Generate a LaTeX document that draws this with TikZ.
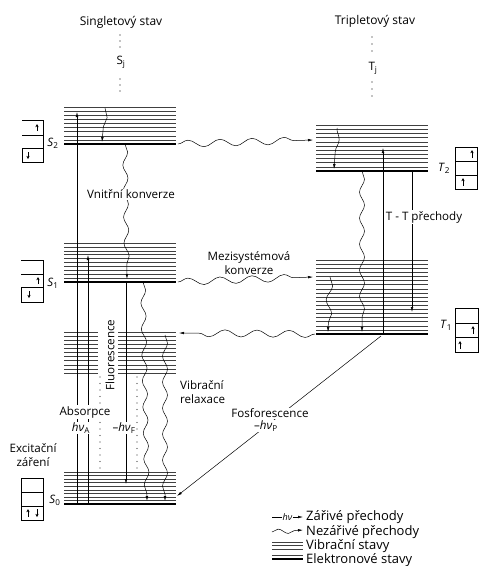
\documentclass[tikz,border=0pt]{standalone}
\usepackage{fontspec}
\setmainfont{Open Sans}
\usetikzlibrary{arrows.meta,positioning,decorations.pathmorphing,calc}

% x1, x2, ytop, ybottom, intervals
\newcommand{\vibthin}[5]{%
  \foreach \k in {0,...,#5}{%
    \pgfmathsetmacro\yy{#3+(#4-#3)*\k/#5}%
    \draw[vib] (#1,\yy) -- (#2,\yy);%
  }%
}
\newcommand{\vibstack}[5]{%
  \vibthin{#1}{#2}{#3}{#4}{#5}%
  \draw[elec] (#1,#4) -- (#2,#4);%
}
\newcommand{\hnu}[1]{\textit{hν}\textsubscript{#1}}

\begin{document}
\begin{tikzpicture}[
  x=1pt, y=-1pt,
  font=\fontsize{11.6}{13.5}\selectfont,
  vib/.style={black!75, line width=0.45pt},
  elec/.style={black, line width=1.3pt},
  rad/.style={-{Latex[length=5pt,width=2.6pt]}, line width=0.5pt},
  wavy/.style={-{Latex[length=5pt,width=2.6pt]}, line width=0.5pt, decorate,
    decoration={snake, amplitude=2.5pt, segment length=26pt, post length=4pt}},
  hwavy/.style={wavy, decoration={snake, amplitude=3.5pt, segment length=32pt, post length=5pt}},
  dotcol/.style={line width=1.1pt, line cap=round, dash pattern=on 0pt off 6.5pt, black!80},
  spin/.style={-{Stealth[length=3.2pt,width=3.2pt]}, line width=0.6pt},
  lbl/.style={fill=white, inner sep=1pt},
  leg/.style={anchor=base west, font=\fontsize{13}{15}\selectfont, inner sep=0pt}
]
  \path[use as bounding box, fill=white] (0,0) rectangle (479,566);

  % headings
  \node[font=\fontsize{12}{14}\selectfont] (singlet) at (121,22) {Singletový stav};
  \node[font=\fontsize{12}{14}\selectfont] (triplet) at (375,21) {Tripletový stav};
  \node (sj) at (121,62) {S\textsubscript{j}};
  \node (tj) at (373,68) {T\textsubscript{j}};
  \foreach \y in {35,41,47,79,85,91} \fill (120,\y) circle (0.7pt);
  \foreach \y in {37,44,51,82,89,96} \fill (372,\y) circle (0.7pt);

  % singlet levels
  \vibstack{64}{176}{107}{144}{9}
  \vibstack{64}{176}{243}{282}{10}
  \vibthin{64}{98}{332}{373}{10}
  \vibthin{118}{176}{332}{373}{10}
  \vibstack{64}{176}{472}{504}{9}
  \draw[dotcol] (100,377) -- (100,468);
  \draw[dotcol] (137,377) -- (137,468);

  % triplet levels
  \vibstack{316}{428}{125}{171}{11}
  \vibstack{316}{428}{260}{334}{18}

  % state labels
  \node (s2) at (53,143) {\textit{S}\textsubscript{2}};
  \node (s1) at (53,283) {\textit{S}\textsubscript{1}};
  \node (s0) at (55,500) {\textit{S}\textsubscript{0}};
  \node (t2) at (444,168) {\textit{T}\textsubscript{2}};
  \node (t1) at (446,325) {\textit{T}\textsubscript{1}};

  % orbital boxes
  \draw (22,120) -- (43,120) -- (43,162) -- (22,162) -- (22,148) -- (43,148) (22,135) -- (43,135);
  \draw[spin] (37,131) -- (37,124);
  \draw[spin] (28,152) -- (28,159);
  \draw (21,260) -- (43,260) -- (43,302) -- (21,302) -- (21,287) -- (43,287) (21,274) -- (43,274);
  \draw[spin] (38,284) -- (38,277);
  \draw[spin] (29,291) -- (29,298);
  \draw (21,478) rectangle (43,520) (21,492) -- (43,492) (21,506) -- (43,506);
  \draw[spin] (28,517) -- (28,509);
  \draw[spin] (37,509) -- (37,517);
  \draw (455,147) rectangle (477,189) (455,161) -- (477,161) (455,175) -- (477,175);
  \draw[spin] (472,158) -- (472,150);
  \draw[spin] (463,186) -- (463,178);
  \draw (455,308) rectangle (478,352) (455,323) -- (478,323) (455,337) -- (478,337);
  \draw[spin] (473,334) -- (473,326);
  \draw[spin] (460,349) -- (460,341);

  \node[align=center] (excit) at (33,455) {Excitační\\záření};

  % transition end points
  \coordinate (absA0) at (77,504);   \coordinate (absA2) at (77,112);
  \coordinate (absB0) at (88,504);   \coordinate (absB1) at (88,255);
  \coordinate (fluS1) at (126,282);  \coordinate (fluS0) at (126,484);
  \coordinate (vrS2a) at (105,108);  \coordinate (vrS2b) at (102,142);
  \coordinate (icS2) at (125,144);   \coordinate (icS1) at (127,279);
  \coordinate (vrS1) at (143,282);   \coordinate (vrS0a) at (147,501);
  \coordinate (vrM) at (165,335);    \coordinate (vrS0b) at (165,501);
  \coordinate (iscS2) at (178,144);  \coordinate (iscT2) at (313,140);
  \coordinate (iscS1) at (178,282);  \coordinate (iscT1) at (313,277);
  \coordinate (riscT1) at (315,334); \coordinate (riscS0) at (179,333);
  \coordinate (vrT2a) at (337,128);  \coordinate (vrT2b) at (334,169);
  \coordinate (icT2) at (362,171);   \coordinate (icT1) at (362,332);
  \coordinate (vrT1a) at (330,277);  \coordinate (vrT1b) at (328,332);
  \coordinate (ttT1) at (383,334);   \coordinate (ttT2) at (383,148);
  \coordinate (ttT2b) at (412,171);  \coordinate (ttT1b) at (412,312);
  \coordinate (phT1) at (381,336);   \coordinate (phS0) at (177,496);

  % radiative transitions
  \draw[rad] (absA0) -- (absA2);
  \draw[rad] (absB0) -- (absB1);
  \draw[rad] (fluS1) -- (fluS0);
  \draw[rad] (ttT1) -- (ttT2);
  \draw[rad] (ttT2b) -- (ttT1b);
  \draw[rad] (phT1) -- (phS0);

  % non-radiative transitions
  \draw[wavy, decoration={snake, amplitude=3pt, segment length=30pt, post length=3pt}] (vrS2a) -- (vrS2b);
  \draw[wavy] (icS2) -- (icS1);
  \draw[wavy] (vrS1) -- (vrS0a);
  \draw[wavy] (vrM) -- (vrS0b);
  \draw[hwavy] (iscS2) -- (iscT2);
  \draw[hwavy] (iscS1) -- (iscT1);
  \draw[hwavy] (riscT1) -- (riscS0);
  \draw[wavy, decoration={snake, amplitude=3pt, segment length=38pt, post length=3pt}] (vrT2a) -- (vrT2b);
  \draw[wavy] (icT2) -- (icT1);
  \draw[wavy, decoration={snake, amplitude=3pt, segment length=28pt, post length=3pt}] (vrT1a) -- (vrT1b);

  % labels
  \node[lbl] (ic) at (131,194) {Vnitřní konverze};
  \node[align=center, inner sep=1pt] (isc) at (249,263) {Mezisystémová\\ konverze};
  \node[lbl, rotate=90] (flu) at (110,355) {Fluorescence};
  \node[align=left, anchor=west, inner sep=0pt] (vr) at (180,392) {Vibrační\\relaxace};
  \node[lbl] (abs) at (85,412) {Absorpce};
  \node[lbl] (hna) at (81,428) {\hnu{A}};
  \node[lbl] (hnf) at (124,428) {–\hnu{F}};
  \node[lbl] (ph) at (270,413) {Fosforescence};
  \node[lbl] (hnp) at (266,426) {–\hnu{P}};
  \node[lbl] (tt) at (424,217) {T - T přechody};

  % legend
  \coordinate (leg1a) at (272,517); \coordinate (leg1b) at (303,517);
  \draw[rad] (leg1a) -- node[lbl, font=\fontsize{9}{10}\selectfont] {\textit{hν}} (leg1b);
  \node[leg] (legrad) at (306,520.5) {Zářivé přechody};
  \coordinate (leg2a) at (272,532); \coordinate (leg2b) at (303,530);
  \draw[wavy, decoration={snake, amplitude=2.5pt, segment length=20pt, post length=4pt}] (leg2a) -- (leg2b);
  \node[leg] (legnon) at (306,535) {Nezářivé přechody};
  \foreach \y in {542,545.5,549} \draw[vib] (272,\y) -- (303,\y);
  \node[leg] (legvib) at (306,549.5) {Vibrační stavy};
  \draw[vib] (272,555) -- (303,555);
  \draw[elec] (272,559) -- (303,559);
  \node[leg] (legel) at (306,563.5) {Elektronové stavy};
\end{tikzpicture}
\end{document}
